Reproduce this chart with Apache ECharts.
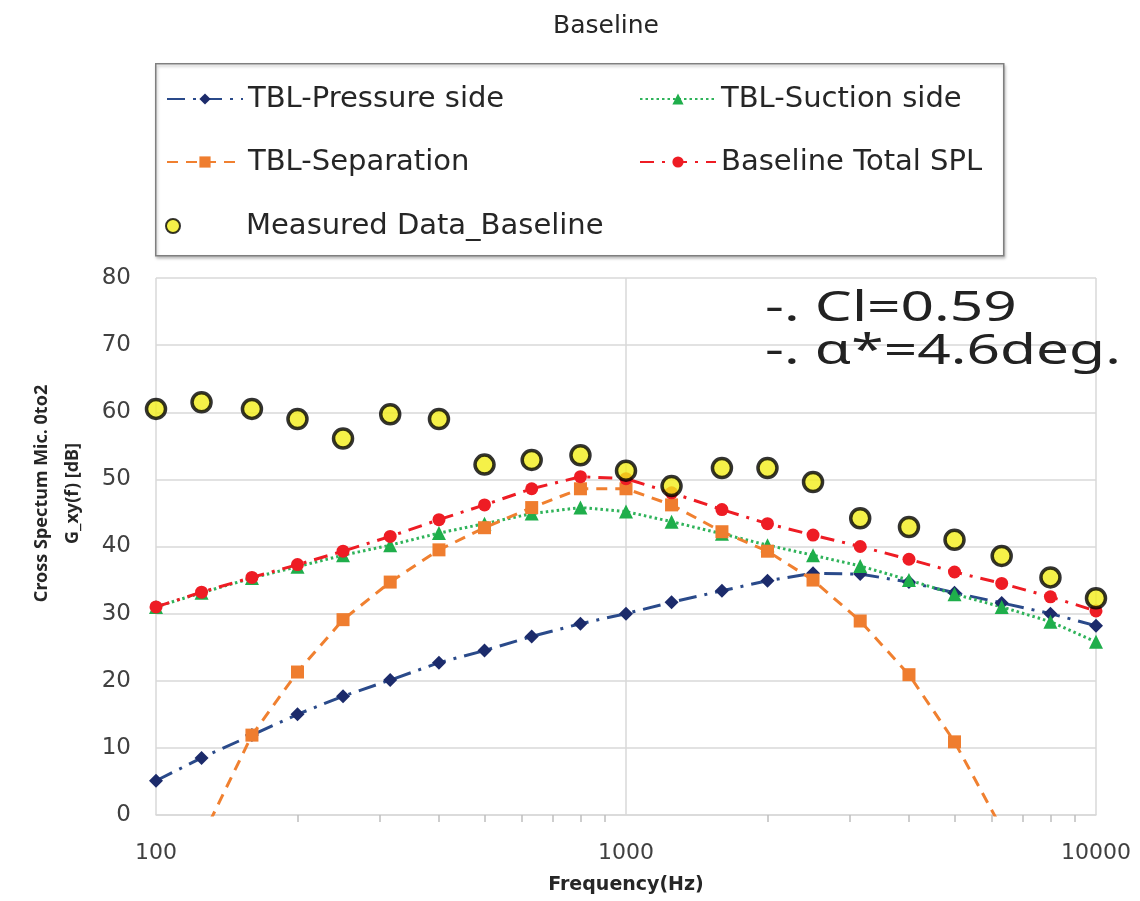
<!DOCTYPE html>
<html>
<head>
    <meta charset="UTF-8">
    <title>Baseline</title>
    <script src="https://cdn.jsdelivr.net/npm/echarts/dist/echarts.min.js"></script>
    <style>
        html, body { margin: 0; padding: 0; background: #fff; }
        #chart { width: 1140px; height: 901px; }
    </style>
</head>
<body>
    <div id="chart"></div>
    <script>
        // 1/3 octave band centre frequencies (Hz)
        var freqs = [100, 125, 160, 200, 250, 315, 400, 500, 630, 800, 1000,
                     1250, 1600, 2000, 2500, 3150, 4000, 5000, 6300, 8000, 10000];

        // values (dB); null = off the chart
        var pressureSide = [5.1, 8.5, 11.9, 15.0, 17.7, 20.1, 22.7, 24.5, 26.6, 28.5, 30.0,
                            31.7, 33.4, 34.9, 36.0, 35.9, 34.7, 33.1, 31.6, 30.0, 28.2];
        var suctionSide = [31.0, 33.1, 35.3, 37.0, 38.7, 40.2, 42.0, 43.4, 44.9, 45.8, 45.2,
                           43.7, 41.9, 40.2, 38.7, 37.1, 35.0, 32.9, 31.0, 28.8, 25.8];
        var separation = [null, -3.5, 11.9, 21.3, 29.1, 34.7, 39.5, 42.8, 45.8, 48.6, 48.6,
                          46.2, 42.2, 39.3, 35.0, 28.9, 20.9, 10.9, -2.0, null, null];
        var totalSPL = [31.0, 33.2, 35.4, 37.3, 39.3, 41.5, 44.0, 46.2, 48.6, 50.4, 50.1,
                        48.0, 45.5, 43.4, 41.7, 40.0, 38.1, 36.2, 34.5, 32.5, 30.4];
        var measured = [60.5, 61.5, 60.5, 59.0, 56.1, 59.7, 59.0, 52.2, 52.9, 53.6, 51.3,
                        49.0, 51.7, 51.7, 49.6, 44.2, 42.9, 41.0, 38.6, 35.4, 32.3];

        var seriesNames = ['TBL-Pressure side', 'TBL-Suction side', 'TBL-Separation',
                           'Baseline Total SPL', 'Measured Data_Baseline'];
        var yTitle = 'Cross Spectum Mic. 0to2\nG_xy(f) [dB]';
        var xTitle = 'Frequency(Hz)';
        var noteLines = ['-. Cl=0.59', '-. α*=4.6deg.'];

        function pairs(vals) {
            return freqs.map(function (f, i) { return [f, vals[i]]; });
        }

        var chart = echarts.init(document.getElementById('chart'));
        var font = 'Noto Sans';
        var legendText = { fontFamily: 'DejaVu Sans', fontSize: 29, color: '#262626', lineHeight: 30 };

        var option = {
            animation: false,
            backgroundColor: '#fff',
            title: {
                text: 'Baseline',
                left: 548,
                top: 9,
                textStyle: { fontFamily: 'DejaVu Sans', fontSize: 25, fontWeight: 'normal', color: '#262626' }
            },
            graphic: [
                {
                    type: 'rect', left: 155, top: 63, z: 0,
                    shape: { width: 848, height: 192 },
                    style: { fill: '#fff', stroke: '#7f7f7f', lineWidth: 1.5,
                             shadowBlur: 3, shadowOffsetX: 1, shadowOffsetY: 2, shadowColor: 'rgba(0,0,0,0.25)' }
                },
                {
                    type: 'text', x: 765, y: 288, z: 10, scaleX: 1.43,
                    style: { text: noteLines.join('\n'), fontFamily: font, fontSize: 41,
                             lineHeight: 43, fill: '#222' }
                }
            ],
            legend: [
                {
                    orient: 'vertical', left: 161, top: 79, itemGap: 33,
                    itemWidth: 76, itemHeight: 14,
                    data: [seriesNames[0], seriesNames[2]],
                    textStyle: legendText
                },
                {
                    orient: 'vertical', left: 634, top: 79, itemGap: 33,
                    itemWidth: 76, itemHeight: 14,
                    data: [seriesNames[1], seriesNames[3]],
                    textStyle: legendText
                },
                {
                    left: 160, top: 206,
                    itemWidth: 16, itemHeight: 14,
                    data: [seriesNames[4]],
                    textStyle: Object.assign({}, legendText, { padding: [0, 0, 0, 60] })
                }
            ],
            grid: { left: 156, right: 44, top: 278, bottom: 86 },
            xAxis: {
                type: 'log',
                logBase: 10,
                min: 100,
                max: 10000,
                interval: 1,
                name: xTitle,
                nameLocation: 'middle',
                nameGap: 61,
                nameTextStyle: { fontFamily: 'DejaVu Sans', fontSize: 19, fontWeight: 'bold', color: '#262626' },
                axisLine: { show: true, lineStyle: { color: '#d9d9d9', width: 1.5 } },
                axisTick: { show: false },
                minorTick: { show: true, splitNumber: 9, length: 7, lineStyle: { color: '#bfbfbf', width: 1.5 } },
                axisLabel: { fontFamily: 'DejaVu Sans', fontSize: 22, color: '#404040', margin: 27,
                             formatter: function (v) { return String(v); } },
                splitLine: { show: true, lineStyle: { color: '#d9d9d9', width: 1.5 } }
            },
            yAxis: {
                type: 'value',
                min: 0,
                max: 80,
                interval: 10,
                name: yTitle,
                nameLocation: 'middle',
                nameGap: 68,
                nameRotate: 90,
                nameTextStyle: { fontFamily: font, fontSize: 18, fontWeight: 'bold', color: '#262626',
                                 lineHeight: 31, padding: [0, 0, 0, 106] },
                axisLine: { show: false },
                axisTick: { show: false },
                axisLabel: { fontFamily: 'DejaVu Sans', fontSize: 23, color: '#404040', margin: 25 },
                splitLine: { show: true, lineStyle: { color: '#d9d9d9', width: 1.5 } }
            },
            series: [
                {
                    name: seriesNames[0], type: 'line', data: pairs(pressureSide),
                    symbol: 'diamond', symbolSize: 14, clip: true, z: 3,
                    itemStyle: { color: '#1c2b6b' },
                    lineStyle: { color: '#2a4a8a', width: 3, type: [18, 8, 3, 8] }
                },
                {
                    name: seriesNames[1], type: 'line', data: pairs(suctionSide),
                    symbol: 'triangle', symbolSize: 14, clip: true, z: 3,
                    itemStyle: { color: '#1fae4b' },
                    lineStyle: { color: '#2fb35a', width: 3, type: [2.5, 3] }
                },
                {
                    name: seriesNames[2], type: 'line', data: pairs(separation),
                    symbol: 'rect', symbolSize: 13, clip: true, z: 3,
                    itemStyle: { color: '#ef7d2f' },
                    lineStyle: { color: '#f08030', width: 3, type: [11, 8] }
                },
                {
                    name: seriesNames[3], type: 'line', data: pairs(totalSPL),
                    symbol: 'circle', symbolSize: 13, clip: true, z: 3,
                    itemStyle: { color: '#ee1c24' },
                    lineStyle: { color: '#ee1c24', width: 3, type: [14, 8, 3, 8] }
                },
                {
                    name: seriesNames[4], type: 'scatter', data: pairs(measured),
                    symbol: 'circle', symbolSize: 19, z: 5,
                    itemStyle: { color: '#f2ee1a', borderColor: '#000', borderWidth: 3.5 }
                }
            ]
        };

        chart.setOption(option);
    </script>
</body>
</html>
